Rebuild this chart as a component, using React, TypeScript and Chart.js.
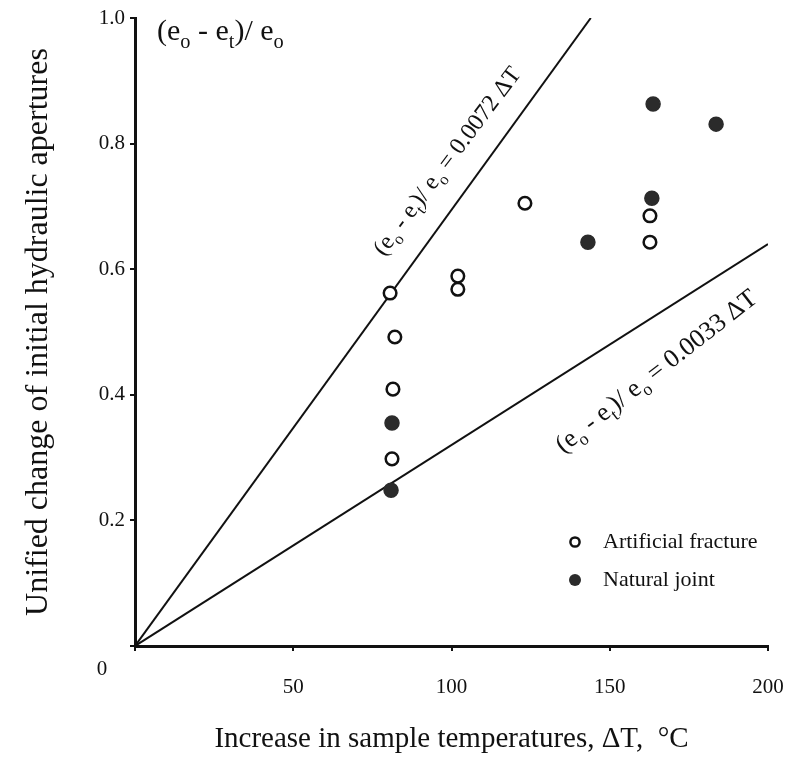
import React, { useEffect, useRef } from 'react';
import { Chart, registerables } from 'chart.js';

Chart.register(...registerables);

const FONT = '"Liberation Serif", "Times New Roman", serif';

// ---- data ----
const artificialT = [80.6, 82.1, 81.5, 81.2, 102, 102, 123.2, 162.7, 162.7];
const artificialR = [0.562, 0.492, 0.409, 0.298, 0.589, 0.568, 0.705, 0.685, 0.643];
const naturalT = [81.2, 80.9, 143.1, 163.3, 163.7, 183.6];
const naturalR = [0.355, 0.248, 0.643, 0.713, 0.863, 0.831];
const upperFitT = [0, 144];
const upperFitR = [0, 1.0];
const lowerFitT = [0, 200];
const lowerFitR = [0, 0.64];
const xTickValues = [0, 50, 100, 150, 200];
const yTickValues = [0, 0.2, 0.4, 0.6, 0.8, 1.0];
const seriesNames = ['Artificial fracture', 'Natural joint'];
const xTitle = 'Increase in sample temperatures, \u0394T,  \u00B0C';
const yTitle = 'Unified change of initial hydraulic apertures';
const upperEq = ' = 0.0072 \u0394T';
const lowerEq = ' = 0.0033 \u0394T';

const zip = (xs: number[], ys: number[]) => xs.map((x, i) => ({ x, y: ys[i] }));

type Seg = [string, boolean];
const ratioSegs: Seg[] = [
  ['(e', false],
  ['o', true],
  [' - e', false],
  ['t', true],
  [')/ e', false],
  ['o', true],
];

function drawRich(ctx: CanvasRenderingContext2D, segs: Seg[], x: number, y: number, fs: number, align: 'left' | 'center') {
  const subFs = fs * 0.68;
  const f = (s: number) => `${s}px ${FONT}`;
  let w = 0;
  for (const [t, sub] of segs) {
    ctx.font = f(sub ? subFs : fs);
    w += ctx.measureText(t).width;
  }
  let cx = align === 'center' ? x - w / 2 : x;
  ctx.textAlign = 'left';
  ctx.textBaseline = 'alphabetic';
  for (const [t, sub] of segs) {
    ctx.font = f(sub ? subFs : fs);
    ctx.fillText(t, cx, sub ? y + fs * 0.26 : y);
    cx += ctx.measureText(t).width;
  }
}

const annotationPlugin = {
  id: 'annotations',
  afterDatasetsDraw(chart: any) {
    const { ctx, chartArea, scales } = chart;
    const xs = scales.x;
    const ys = scales.y;
    ctx.save();
    ctx.fillStyle = '#111';

    // origin label
    ctx.font = `21px ${FONT}`;
    ctx.textAlign = 'center';
    ctx.textBaseline = 'middle';
    ctx.fillText('0', chartArea.left - 33, chartArea.bottom + 23);

    // axis quantity label, top-left
    drawRich(ctx, ratioSegs, chartArea.left + 22, chartArea.top + 22, 30, 'left');

    // upper fit label
    ctx.save();
    ctx.translate(xs.getPixelForValue(98.9), ys.getPixelForValue(0.771));
    ctx.rotate((-53 * Math.PI) / 180);
    drawRich(ctx, [...ratioSegs, [upperEq, false]], 0, 0.25 * 24, 24, 'center');
    ctx.restore();

    // lower fit label
    ctx.save();
    ctx.translate(xs.getPixelForValue(164.9), ys.getPixelForValue(0.436));
    ctx.rotate((-38 * Math.PI) / 180);
    drawRich(ctx, [...ratioSegs, [lowerEq, false]], 0, 0.25 * 26, 26, 'center');
    ctx.restore();

    // legend
    const lx = chartArea.left + 440;
    const ly1 = chartArea.bottom - 104;
    const ly2 = chartArea.bottom - 66;
    ctx.beginPath();
    ctx.arc(lx, ly1, 4.6, 0, Math.PI * 2);
    ctx.fillStyle = '#fff';
    ctx.fill();
    ctx.lineWidth = 2.5;
    ctx.strokeStyle = '#111';
    ctx.stroke();
    ctx.beginPath();
    ctx.arc(lx, ly2, 6, 0, Math.PI * 2);
    ctx.fillStyle = '#2b2b2b';
    ctx.fill();
    ctx.fillStyle = '#111';
    ctx.font = `22px ${FONT}`;
    ctx.textAlign = 'left';
    ctx.textBaseline = 'middle';
    ctx.fillText(seriesNames[0], lx + 28, ly1);
    ctx.fillText(seriesNames[1], lx + 28, ly2);
    ctx.restore();
  },
};

export default function App() {
  const canvasRef = useRef<HTMLCanvasElement | null>(null);

  useEffect(() => {
    if (!canvasRef.current) return;
    const chart = new Chart(canvasRef.current, {
      type: 'scatter',
      data: {
        datasets: [
          {
            label: 'upper fit',
            data: zip(upperFitT, upperFitR),
            showLine: true,
            borderColor: '#111',
            borderWidth: 2,
            pointRadius: 0,
            order: 3,
          },
          {
            label: 'lower fit',
            data: zip(lowerFitT, lowerFitR),
            showLine: true,
            borderColor: '#111',
            borderWidth: 2,
            pointRadius: 0,
            order: 3,
          },
          {
            label: seriesNames[0],
            data: zip(artificialT, artificialR),
            pointStyle: 'circle',
            pointRadius: 6.3,
            pointBorderWidth: 2.5,
            pointBackgroundColor: '#fff',
            pointBorderColor: '#111',
            order: 1,
          },
          {
            label: seriesNames[1],
            data: zip(naturalT, naturalR),
            pointStyle: 'circle',
            pointRadius: 7,
            pointBorderWidth: 1.5,
            pointBackgroundColor: '#2b2b2b',
            pointBorderColor: '#2b2b2b',
            order: 1,
          },
        ],
      },
      options: {
        animation: false,
        responsive: false,
        events: [],
        layout: { padding: { top: 18, right: 26, left: 0, bottom: 0 } },
        plugins: {
          legend: { display: false },
          tooltip: { enabled: false },
        },
        scales: {
          x: {
            type: 'linear',
            min: 0,
            max: 200,
            afterBuildTicks: (s: any) => {
              s.ticks = xTickValues.map((v) => ({ value: v }));
            },
            afterFit: (s: any) => {
              s.height = 116;
              s.paddingLeft = 0;
              s.paddingRight = 0;
            },
            ticks: {
              font: { family: FONT, size: 21 },
              color: '#111',
              padding: 24,
              maxRotation: 0,
              callback: (v: any) => (v === 0 ? '' : String(v)),
            },
            grid: {
              drawOnChartArea: false,
              drawTicks: true,
              tickLength: 5,
              color: '#111',
              lineWidth: 2,
            },
            border: { display: true, color: '#111', width: 3 },
            title: {
              display: true,
              text: xTitle,
              font: { family: FONT, size: 29 },
              color: '#111',
              padding: { top: 0, bottom: 5 },
            },
          },
          y: {
            type: 'linear',
            min: 0,
            max: 1,
            afterBuildTicks: (s: any) => {
              s.ticks = yTickValues.map((v) => ({ value: v }));
            },
            afterFit: (s: any) => {
              s.width = 135;
            },
            ticks: {
              font: { family: FONT, size: 21 },
              color: '#111',
              padding: 5,
              callback: (v: any) => (v === 0 ? '' : Number(v).toFixed(1)),
            },
            grid: {
              drawOnChartArea: false,
              drawTicks: true,
              tickLength: 5,
              color: '#111',
              lineWidth: 2,
            },
            border: { display: true, color: '#111', width: 3 },
            title: {
              display: true,
              text: yTitle,
              font: { family: FONT, size: 32 },
              color: '#111',
              padding: { top: 19, bottom: 0 },
            },
          },
        },
      },
      plugins: [annotationPlugin],
    });
    return () => chart.destroy();
  }, []);

  return (
    <div style={{ position: 'absolute', left: 0, top: 0, width: 794, height: 762, background: '#fff' }}>
      <canvas ref={canvasRef} width={794} height={762} style={{ width: 794, height: 762, display: 'block' }} />
    </div>
  );
}
